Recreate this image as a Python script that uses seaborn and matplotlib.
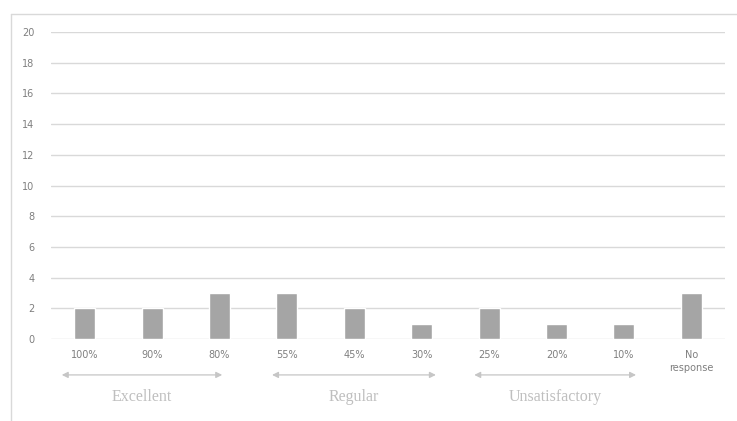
import matplotlib
matplotlib.use("Agg")
import matplotlib.pyplot as plt
from matplotlib.lines import Line2D
import seaborn as sns
import pandas as pd

categories = ["100%", "90%", "80%", "55%", "45%", "30%", "25%", "20%", "10%", "No\nresponse"]
counts = [2, 2, 3, 3, 2, 1, 2, 1, 1, 3]
y_ticks = [0, 2, 4, 6, 8, 10, 12, 14, 16, 18, 20]
groups = ["Excellent", "Regular", "Unsatisfactory"]
group_spans = [(-0.34, 2.04), (2.78, 5.21), (5.78, 8.18)]

sns.set_theme(style="white")
plt.rcParams["font.family"] = ["DejaVu Sans"]

W, H = 737, 421
fig = plt.figure(figsize=(W / 100, H / 100), dpi=100)
ax = fig.add_axes([51 / W, 82 / H, 674 / W, 307 / H])

df = pd.DataFrame({"category": categories, "count": counts})
sns.barplot(data=df, x="category", y="count", color="#a5a5a5", saturation=1,
            width=0.31, ax=ax, zorder=3)

ax.set_xlim(-0.5, len(categories) - 0.5)
ax.set_ylim(0, 20)
ax.set_yticks(y_ticks)
ax.yaxis.grid(True, color="#d9d9d9", linewidth=1.0, zorder=0)
ax.set_axisbelow(True)
for s in ax.spines.values():
    s.set_visible(False)
ax.set_xlabel("")
ax.set_ylabel("")
ax.tick_params(axis="both", length=0, labelsize=7, labelcolor="#7f7f7f")
ax.tick_params(axis="y", pad=12)
ax.tick_params(axis="x", pad=8)
for lbl in ax.get_xticklabels():
    lbl.set_linespacing(1.4)

# Group arrows and labels below the category labels
trans = ax.get_xaxis_transform()
for name, (x0, x1) in zip(groups, group_spans):
    ax.annotate("", xy=(x1, -0.117), xytext=(x0, -0.117), xycoords=trans,
                textcoords=trans, annotation_clip=False,
                arrowprops=dict(arrowstyle="<|-|>", color="#c6c6c6", lw=0.9,
                                mutation_scale=9, shrinkA=0, shrinkB=0))
    ax.text((x0 + x1) / 2, -0.19, name, transform=trans, ha="center", va="center",
            fontsize=11.5, color="#bfbfbf", family="Liberation Serif")

# Chart area frame
fig.add_artist(Line2D([10.5 / W, 10.5 / W], [0, 1 - 14 / H], color="#d9d9d9", lw=1.0))
fig.add_artist(Line2D([10.5 / W, 1], [1 - 14 / H, 1 - 14 / H], color="#d9d9d9", lw=1.0))

fig.savefig("out.png", dpi=100)
